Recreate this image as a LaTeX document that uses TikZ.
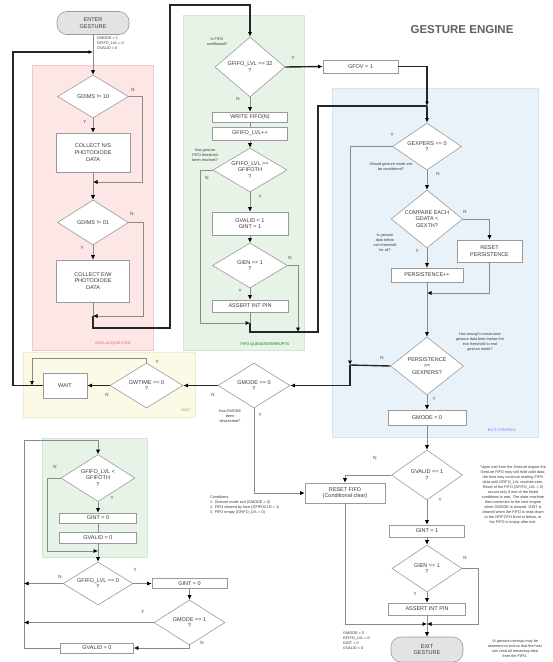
\documentclass[tikz,border=0pt]{standalone}
\usepackage{fontspec}
\setmainfont{Liberation Sans}
\usetikzlibrary{shapes.geometric,arrows.meta}
\definecolor{txt}{HTML}{3A3A3A}
\definecolor{boxc}{HTML}{9A9A9A}
\definecolor{lnc}{HTML}{8A8A8A}
\definecolor{redbg}{HTML}{FCE6E6}
\definecolor{redbd}{HTML}{F3CACA}
\definecolor{grnbg}{HTML}{E8F3E8}
\definecolor{grnbd}{HTML}{D2E6D2}
\definecolor{blubg}{HTML}{EAF2F9}
\definecolor{blubd}{HTML}{D5E3EF}
\definecolor{yelbg}{HTML}{FCFAE6}
\definecolor{yelbd}{HTML}{F0ECC8}
\newcommand{\fnode}{\fontsize{5.5}{6.6}\selectfont}
\newcommand{\fnote}{\fontsize{3.8}{5}\selectfont}
\newcommand{\flab}{\fontsize{4.5}{5}\selectfont}
\begin{document}
\begin{tikzpicture}[x=1pt,y=-1pt,
  box/.style={draw=boxc,fill=white,line width=0.6pt,inner sep=0pt,align=center,font=\fnode,text=txt},
  dia/.style={diamond,draw=boxc,fill=white,line width=0.6pt,inner sep=0pt,aspect=1.6,align=center,font=\fnode,text=txt},
  term/.style={draw=boxc,fill=gray!22,line width=0.6pt,rounded corners=10pt,inner sep=0pt,align=center,font=\fnode,text=txt},
  ln/.style={draw=lnc,line width=0.6pt},
  thk/.style={draw=black!85,line width=1.4pt},
  arr/.style={-{Latex[length=4.5pt,width=4pt,color=black]}},
  lab/.style={font=\flab,text=txt,inner sep=0pt},
  note/.style={font=\fnote,text=txt,align=center,inner sep=0pt},
  reglab/.style={font=\fnote,inner sep=0pt}]
\useasboundingbox (0,0) rectangle (553,662);
\fill[white] (0,0) rectangle (553,662);
% regions
\path[fill=redbg,draw=redbd,line width=0.5pt] (32,65) rectangle (153,350);
\path[fill=grnbg,draw=grnbd,line width=0.5pt] (183,15) rectangle (304,350);
\path[fill=blubg,draw=blubd,line width=0.5pt] (332,88) rectangle (538,437);
\path[fill=yelbg,draw=yelbd,line width=0.5pt] (23,352) rectangle (195,417);
\path[fill=grnbg,draw=grnbd,line width=0.5pt] (42,438) rectangle (147,557);
\node[reglab,text=red!65] (rl1) at (113,344) {DATA ACQUISITION};
\node[reglab,text=green!45!black] (rl2) at (265,344) {FIFO QUEUE/INTERRUPTS};
\node[reglab,text=blue!55] (rl3) at (502,430) {EXIT CONTROL};
\node[reglab,text=yellow!60!black] (rl4) at (186,410) {WAIT};
% title
\node[font=\fontsize{11.5}{13}\selectfont\bfseries,text=black!62,inner sep=0pt] (title) at (462,30) {GESTURE ENGINE};
% column A
\node[term,minimum width=72pt,minimum height=23pt] (enter) at (93,23) {ENTER\\GESTURE};
\node[note,align=left,anchor=north west] (enote) at (97,37) {GMODE = 1\\GFIFO\_LVL = 0\\GVALID = 0};
\node[dia,minimum width=71pt,minimum height=43pt] (d1) at (93,96.5) {GDIMS != 10};
\node[box,minimum width=74pt,minimum height=39pt] (b1) at (93,152.5) {COLLECT N/S\\PHOTODIODE\\DATA};
\node[dia,minimum width=71pt,minimum height=45pt] (d2) at (93,222.5) {GDIMS != 01};
\node[box,minimum width=73pt,minimum height=42pt] (b2) at (93,281) {COLLECT E/W\\PHOTODIODE\\DATA};
\coordinate (j1) at (93,52);
\coordinate (j2) at (93,182);
\coordinate (j3) at (93,316);
% column B
\node[dia,minimum width=70pt,minimum height=60pt] (gd1) at (250,67) {GFIFO\_LVL == 32\\?};
\node[note] (gn1) at (217,42) {Is FIFO\\overflowed?};
\node[box,minimum width=75pt,minimum height=10pt] (gb1) at (250,117) {WRITE FIFO(N)};
\node[box,minimum width=75pt,minimum height=13pt] (gb2) at (250,133.5) {GFIFO\_LVL++};
\node[note] (gn2) at (205,155) {Has gesture\\FIFO threshold\\been reached?};
\node[dia,minimum width=74pt,minimum height=44pt] (gd2) at (250,170) {GFIFO\_LVL >=\\GFIFOTH\\?};
\node[box,minimum width=76pt,minimum height=23pt] (gb3) at (250,223.5) {GVALID = 1\\GINT = 1};
\node[dia,minimum width=75pt,minimum height=45pt] (gd3) at (250,265.5) {GIEN == 1\\?};
\node[box,minimum width=76pt,minimum height=12pt] (gb4) at (250,306) {ASSERT INT PIN};
\node[box,minimum width=75pt,minimum height=13pt] (gfov) at (360.5,66.5) {GFOV = 1};
\coordinate (j4) at (250,323);
\coordinate (j5) at (427,106);
\coordinate (j6) at (298,332);
% column C
\node[dia,minimum width=69pt,minimum height=47pt] (bd1) at (427,146.5) {GEXPERS == 0\\?};
\node[note] (bn1) at (391,167) {Should gesture mode exit\\be considered?};
\node[dia,minimum width=69pt,minimum height=58pt] (bd2) at (427,219) {COMPARE EACH\\GDATA <\\GEXTH?};
\node[note] (bn2) at (385,243) {Is gesture\\data below\\exit threshold\\for all?};
\node[box,minimum width=65pt,minimum height=22pt] (breset) at (489.5,251) {RESET\\PERSISTENCE};
\node[box,minimum width=72pt,minimum height=14pt] (bpers) at (427,275) {PERSISTENCE++};
\node[note] (bn3) at (480,342) {Has enough consecutive\\gesture data been below the\\exit threshold to end\\gesture mode?};
\node[dia,minimum width=73pt,minimum height=58pt] (bd3) at (427,366) {PERSISTENCE\\>=\\GEXPERS?};
\node[box,minimum width=78pt,minimum height=15pt] (bgm0) at (427,417.5) {GMODE = 0};
\node[dia,minimum width=71pt,minimum height=50pt] (dval) at (427,475) {GVALID == 1\\?};
\node[box,minimum width=75pt,minimum height=12pt] (gint1) at (427,531) {GINT = 1};
\node[dia,minimum width=70pt,minimum height=47pt] (gien) at (427,568.5) {GIEN == 1\\?};
\node[box,minimum width=77pt,minimum height=12pt] (assert2) at (427,609) {ASSERT INT PIN};
\node[term,minimum width=72pt,minimum height=25pt] (exit) at (427,649.5) {EXIT\\GESTURE};
\node[box,minimum width=80pt,minimum height=20pt] (rfifo) at (345,493) {RESET FIFO\\(Conditional clear)};
\coordinate (j7) at (427,293);
\coordinate (j8) at (350,365);
\coordinate (j10) at (427,624);
% wait row
\node[dia,minimum width=72pt,minimum height=45pt] (gm) at (254,385.5) {GMODE == 0\\?};
\node[note] (gmn) at (230,416) {Has GMODE\\been\\deasserted?};
\node[dia,minimum width=73pt,minimum height=45pt] (gw) at (146.5,385.5) {GWTIME == 0\\?};
\node[box,minimum width=44pt,minimum height=25pt] (wait) at (65,385.5) {WAIT};
\coordinate (j9) at (32,385.5);
% notes
\node[note,align=left,anchor=north west] (cond) at (210,496) {Conditions:\\1. Gesture mode exit (GMODE = 0)\\2. FIFO cleared by host (GFIFOCLR = 1)\\3. FIFO empty (GFIFO\_LVL = 0)};
\node[note,align=left,anchor=north west] (xnote) at (343,632) {GMODE = 0\\GFIFO\_LVL = 0\\GINT = 0\\GVALID = 0};
\node[note] (pnote) at (513,495) {*Upon exit from the Gesture engine the\\Gesture FIFO may still hold valid data;\\the host may continue reading FIFO\\data until GFIFO\_LVL reaches zero.\\Reset of the FIFO (GFIFO\_LVL = 0)\\occurs only if one of the listed\\conditions is met. The state machine\\then continues to the next engine\\when GMODE is cleared. GINT is\\cleared when the FIFO is read down\\to the GFIFOTH level or below, or\\the FIFO is empty after exit.};
\node[note] (bnote) at (515,649) {*A gesture interrupt may be\\asserted on exit so that the host\\can read all remaining data\\from the FIFO.};
% bottom left
\node[dia,minimum width=74pt,minimum height=47pt] (bl_d1) at (98,478) {GFIFO\_LVL <\\GFIFOTH\\?};
\node[box,minimum width=77pt,minimum height=10pt] (bl_b1) at (98,518) {GINT = 0};
\node[box,minimum width=77pt,minimum height=11pt] (bl_b2) at (98,537.5) {GVALID = 0};
\node[dia,minimum width=70pt,minimum height=43pt] (bl_d2) at (98,583.5) {GFIFO\_LVL == 0\\?};
\node[box,minimum width=75pt,minimum height=10pt] (bl_gint) at (189.5,583.5) {GINT = 0};
\node[dia,minimum width=71pt,minimum height=45pt] (bl_gm) at (189.5,622.5) {GMODE == 1\\?};
\node[box,minimum width=73pt,minimum height=10pt] (bl_gval) at (97,648) {GVALID = 0};
\coordinate (j11) at (98,551);
\coordinate (j12) at (24,583.5);
\coordinate (j13) at (24,622.5);
% ---- connectors column A
\draw[ln] (enter.south) -- (j1);
\draw[thk,arr] (wait.west) -- (13,385.5) -- (13,52) -- (j1);
\draw[ln,arr] (j1) -- (d1.north);
\draw[ln,arr] (d1.south) -- (b1.north);
\draw[ln,arr] (d1.east) -- (142,96.5) -- (142,182) -- (j2);
\draw[ln] (b1.south) -- (j2);
\draw[ln,arr] (j2) -- (d2.north);
\draw[ln,arr] (d2.south) -- (b2.north);
\draw[ln,arr] (d2.east) -- (143,222.5) -- (143,316) -- (j3);
\draw[ln] (b2.south) -- (j3);
\draw[thk,arr] (j3) -- (93,328) -- (170,328) -- (170,5) -- (250,5) -- (gd1.north);
% column B
\draw[thk,arr] (gd1.east) -- (gfov.west);
\draw[ln,arr] (gd1.south) -- (gb1.north);
\draw[ln] (gb1.south) -- (gb2.north);
\draw[ln,arr] (gb2.south) -- (gd2.north);
\draw[ln,arr] (gd2.south) -- (gb3.north);
\draw[ln,arr] (gb3.south) -- (gd3.north);
\draw[ln,arr] (gd3.south) -- (gb4.north);
\draw[ln,arr] (gd2.west) -- (200,170) -- (200,323) -- (j4);
\draw[ln] (gb4.south) -- (j4);
\draw[thk] (j4) -- (250,332) -- (318,332) -- (318,106) -- (j5);
\draw[ln,arr] (gd3.east) -- (298,265.5) -- (j6);
\draw[thk,arr] (gfov.east) -- (427,66.5) -- (j5);
\draw[thk,arr] (j5) -- (bd1.north);
% column C
\draw[ln,arr] (bd1.south) -- (bd2.north);
\draw[ln,arr] (bd2.east) -- (489.5,219) -- (breset.north);
\draw[ln,arr] (bd2.south) -- (bpers.north);
\draw[ln,arr] (breset.south) -- (489.5,293) -- (j7);
\draw[ln] (bpers.south) -- (j7);
\draw[ln,arr] (j7) -- (bd3.north);
\draw[ln,arr] (bd3.south) -- (bgm0.north);
\draw[ln,arr] (bgm0.south) -- (dval.north);
\draw[ln,arr] (bd1.west) -- (350,146.5) -- (j8);
\draw[thk] (bd3.west) -- (j8);
\draw[thk,arr] (j8) -- (350,385.5) -- (gm.east);
\draw[thk,arr] (gm.west) -- (gw.east);
\draw[thk,arr] (gw.west) -- (wait.east);
\draw[ln,arr] (gw.north) -- (146.5,358) -- (32,358) -- (j9);
\draw[ln,arr] (gm.south) -- (254,493) -- (rfifo.west);
\draw[ln,arr] (dval.west) -- (345,475) -- (rfifo.north);
\draw[ln,arr] (dval.south) -- (gint1.north);
\draw[ln,arr] (gint1.south) -- (gien.north);
\draw[ln,arr] (gien.south) -- (assert2.north);
\draw[ln,arr] (rfifo.south) -- (345,624) -- (j10);
\draw[ln,arr] (gien.east) -- (478,568.5) -- (478,624) -- (j10);
\draw[ln] (assert2.south) -- (j10);
\draw[ln,arr] (j10) -- (exit.north);
% bottom left
\draw[ln,arr] (bl_gval.west) -- (24,648) -- (24,440) -- (98,440) -- (bl_d1.north);
\draw[ln,arr] (bl_d1.south) -- (bl_b1.north);
\draw[ln] (bl_b1.south) -- (bl_b2.north);
\draw[ln] (bl_b2.south) -- (j11);
\draw[ln,arr] (bl_d1.west) -- (47,478) -- (47,551) -- (j11);
\draw[ln,arr] (j11) -- (bl_d2.north);
\draw[ln,arr] (bl_d2.west) -- (j12);
\draw[ln,arr] (bl_d2.east) -- (bl_gint.west);
\draw[ln,arr] (bl_gint.south) -- (bl_gm.north);
\draw[ln,arr] (bl_gm.west) -- (j13);
\draw[ln,arr] (bl_gm.south) -- (189.5,648) -- (bl_gval.east);
% labels
\node[lab] (l1) at (85,122) {Y};
\node[lab] (l2) at (133,90) {N};
\node[lab] (l3) at (132,214) {N};
\node[lab] (l4) at (82,248) {Y};
\node[lab] (l5) at (293,58) {Y};
\node[lab] (l6) at (238,99) {N};
\node[lab] (l7) at (207,178) {N};
\node[lab] (l8) at (260,197) {Y};
\node[lab] (l9) at (290,258) {N};
\node[lab] (l10) at (240,291) {Y};
\node[lab] (l11) at (392,135) {Y};
\node[lab] (l12) at (438,174) {N};
\node[lab] (l13) at (465,212) {N};
\node[lab] (l14) at (417,251) {Y};
\node[lab] (l15) at (382,358) {N};
\node[lab] (l16) at (434,399) {Y};
\node[lab] (l17) at (375,458) {N};
\node[lab] (l18) at (440,500) {Y};
\node[lab] (l19) at (465,558) {N};
\node[lab] (l20) at (415,594) {Y};
\node[lab] (l21) at (213,395) {N};
\node[lab] (l22) at (260,415) {Y};
\node[lab] (l23) at (107,395) {N};
\node[lab] (l24) at (157,362) {Y};
\node[lab] (l25) at (55,467) {N};
\node[lab] (l26) at (112,498) {Y};
\node[lab] (l27) at (60,577) {N};
\node[lab] (l28) at (135,570) {Y};
\node[lab] (l29) at (143,612) {Y};
\node[lab] (l30) at (202,643) {N};
\end{tikzpicture}
\end{document}
